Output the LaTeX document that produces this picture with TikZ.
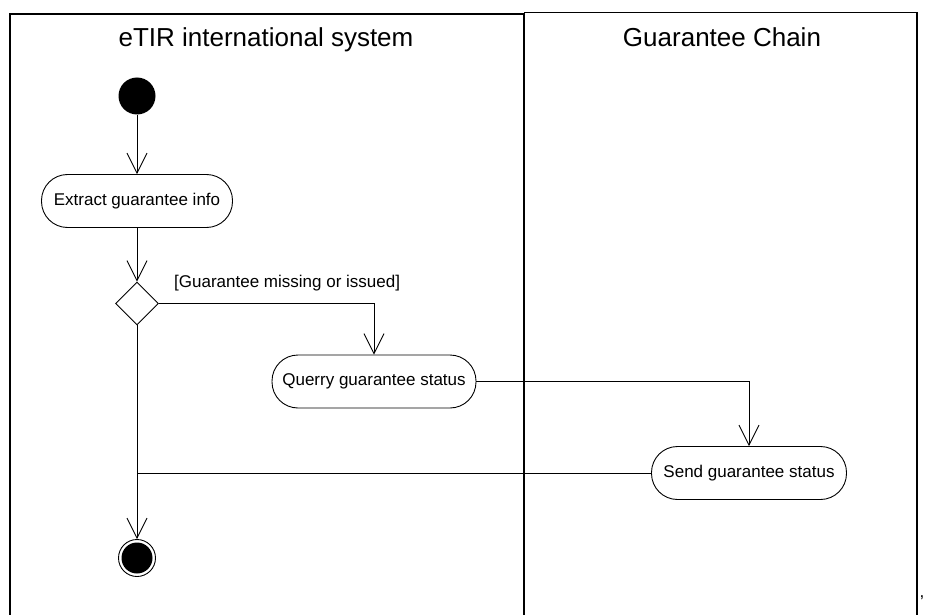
\documentclass[tikz,border=0pt]{standalone}
\usepackage{fontspec}
\setmainfont{Liberation Sans}
\usetikzlibrary{arrows.meta,shapes.geometric}
\begin{document}
\begin{tikzpicture}[x=1pt,y=-1pt,
  lane/.style={line width=1.6pt},
  act/.style={draw,line width=0.9pt,rounded corners=26pt,minimum height=53pt,inner sep=0pt,font=\fontsize{17}{20}\selectfont},
  flow/.style={line width=0.9pt,-{Straight Barb[length=20pt,width=20pt,line width=0.9pt]}},
  plain/.style={line width=0.9pt},
  title/.style={font=\fontsize{26}{30}\selectfont,anchor=base},
  lbl/.style={font=\fontsize{17}{20}\selectfont,inner sep=0pt},
]
\useasboundingbox (0,0) rectangle (926,615);
% swimlanes
\draw[lane] (10,616) -- (10,14) -- (524,14) -- (524,616);
\draw[lane] (524,12.5) -- (917,12.5) -- (917,616);
\node[title] (t1) at (266,47) {eTIR international system};
\node[title] (t2) at (722,47) {Guarantee Chain};
% nodes
\node[circle,fill=black,minimum size=37pt,inner sep=0pt] (start) at (137,96) {};
\node[act,minimum width=191pt] (extract) at (137,201) {Extract guarantee info};
\node[diamond,draw,line width=0.9pt,minimum width=43pt,minimum height=43pt,inner sep=0pt] (dec) at (137,303.5) {};
\node[act,minimum width=204pt] (query) at (374,381.5) {Querry guarantee status};
\node[act,minimum width=195pt] (send) at (749,473) {Send guarantee status};
\node[circle,draw,line width=0.9pt,minimum size=37pt,inner sep=0pt] (end) at (137,558) {};
\node[circle,fill=black,minimum size=31pt,inner sep=0pt] (endin) at (137,558) {};
\node[lbl,anchor=base west] (guard) at (174,287) {[Guarantee missing or issued]};
\node[lbl] (comma) at (922,598) {,};
% flows
\draw[flow] (start) -- (extract);
\draw[flow] (extract) -- (dec);
\draw[flow] (dec.east) -| (query.north);
\draw[flow] (query.east) -| (send.north);
\draw[flow] (dec.south) -- (end);
\draw[plain] (send.west) -- (dec.south |- send.west);
\end{tikzpicture}
\end{document}
